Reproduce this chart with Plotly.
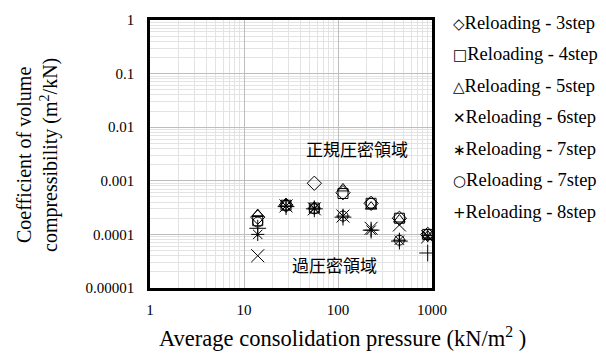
import plotly.graph_objects as go

pressure = [14, 28, 56, 113, 225, 450, 900]

series_names = [
    "Reloading - 3step", "Reloading - 4step", "Reloading - 5step",
    "Reloading - 6step", "Reloading - 7step", "Reloading - 7step",
    "Reloading - 8step",
]
legend_glyphs = ["◇", "□", "△", "✕", "∗", "○", "+"]

mv_3step = [0.00021, 0.00035, 0.00090, 0.00060, 0.00038, 0.00020, 0.00010]
mv_4step = [0.00018, 0.00035, 0.00031, 0.00058, 0.00038, 0.00020, 0.00010]
mv_5step = [0.00024, 0.00037, 0.00033, 0.00072, 0.00033, 0.00019, 0.000095]
mv_6step = [0.00004, 0.00034, 0.00030, 0.00022, 0.00013, 0.00015, 0.00009]
mv_7step_a = [0.00010, 0.00034, 0.00031, 0.00022, 0.00012, 0.000078, 0.000095]
mv_7step_b = [0.00017, 0.00035, 0.00030, 0.00022, 0.00038, 0.000078, 0.00010]
mv_8step = [0.00013, 0.00033, 0.00030, 0.00021, 0.00012, 0.000075, 0.000045]

x_tickvals = [1, 10, 100, 1000]
x_ticktext = ["1", "10", "100", "1000"]
y_tickvals = [1, 0.1, 0.01, 0.001, 0.0001, 0.00001]
y_ticktext = ["1", "0.1", "0.01", "0.001", "0.0001", "0.00001"]
x_minor = [m * 10 ** k for k in range(0, 3) for m in range(2, 10)]
y_minor = [m * 10.0 ** k for k in range(-5, 0) for m in range(2, 10)]

all_series = [mv_3step, mv_4step, mv_5step, mv_6step, mv_7step_a, mv_7step_b, mv_8step]
symbols = ["diamond-open", "square-open", "triangle-up-open", "x-thin-open",
           "asterisk-open", "circle-open", "cross-thin-open"]
sizes = [11, 10, 10, 13, 11, 10, 12]

SERIF = "Liberation Serif, Times New Roman, serif"

fig = go.Figure()
for name, vals, sym, sz in zip(series_names, all_series, symbols, sizes):
    fig.add_trace(go.Scatter(
        x=pressure, y=vals, mode="markers", name=name, showlegend=False,
        marker=dict(symbol=sym, size=sz, color="black", line=dict(color="black", width=1)),
    ))

axis_common = dict(
    type="log", showline=True, linecolor="black", linewidth=2.5, mirror=True,
    showgrid=True, gridcolor="#bdbdbd", gridwidth=1, ticks="", zeroline=False,
    tickfont=dict(family=SERIF, size=15, color="black"),
)

fig.update_xaxes(range=[0, 3], tickvals=x_tickvals, ticktext=x_ticktext,
                 ticklabelstandoff=6,
                 minor=dict(tickvals=x_minor, showgrid=True, gridcolor="#e3e3e3", gridwidth=1),
                 **axis_common)
fig.update_yaxes(range=[-5, 0], tickvals=y_tickvals, ticktext=y_ticktext,
                 ticklabelstandoff=10,
                 minor=dict(tickvals=y_minor, showgrid=True, gridcolor="#e3e3e3", gridwidth=1),
                 **axis_common)

PX_L, PX_R, PX_T, PX_B = 150, 432, 14, 288


def px(xp, yp):
    return (xp - PX_L) / (PX_R - PX_L), (PX_B - yp) / (PX_B - PX_T)


def note(text, xp, yp, font, anchor="center", angle=0):
    ax, ay = px(xp, yp)
    fig.add_annotation(text=text, x=ax, y=ay, xref="paper", yref="paper",
                       xanchor=anchor, yanchor="middle", textangle=angle,
                       showarrow=False, font=font)


jp_font = dict(family="Noto Sans CJK JP", size=17, color="black")
note("正規圧密領域", 357, 145, jp_font)
note("過圧密領域", 334, 264, jp_font)
note("Average consolidation pressure (kN/m<sup>2</sup> )", 342, 338,
     dict(family=SERIF, size=22.5, color="black"))
note("Coefficient of volume<br>compressibility (m<sup>2</sup>/kN)", 38, 152,
     dict(family=SERIF, size=20, color="black"), angle=-90)

for i, (g, name) in enumerate(zip(legend_glyphs, series_names)):
    glyph = '<span style="font-family:DejaVu Sans;font-size:15px">' + g + "</span>"
    note(glyph + name, 451, 17 + i * 32.2, dict(family=SERIF, size=18.5, color="black"),
         anchor="left")

fig.update_layout(
    width=606, height=363,
    margin=dict(l=150, r=174, t=14, b=75),
    plot_bgcolor="white", paper_bgcolor="white",
    showlegend=False,
)

fig.write_html("out.html")
